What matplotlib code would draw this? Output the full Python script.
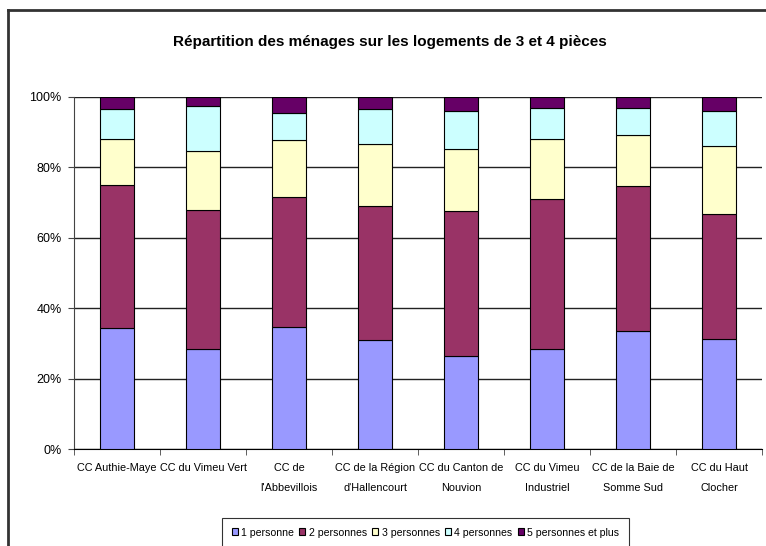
import matplotlib
matplotlib.use("Agg")
import matplotlib.pyplot as plt
import numpy as np
from matplotlib.lines import Line2D

categories = ["CC Authie-Maye", "CC du Vimeu Vert", "CC de\nl'Abbevillois",
              "CC de la Région\nd'Hallencourt", "CC du Canton de\nNouvion",
              "CC du Vimeu\nIndustriel", "CC de la Baie de\nSomme Sud", "CC du Haut\nClocher"]
series_names = ["1 personne", "2 personnes", "3 personnes", "4 personnes", "5 personnes et plus"]
p1 = [34.3, 28.3, 34.6, 30.9, 26.4, 28.3, 33.5, 31.2]
p2 = [40.7, 39.6, 37.0, 38.1, 41.1, 42.7, 41.1, 35.6]
p3 = [13.0, 16.8, 16.1, 17.6, 17.6, 17.0, 14.5, 19.4]
p4 = [8.6, 12.7, 7.8, 10.0, 10.8, 9.0, 7.9, 9.7]
p5 = [3.4, 2.6, 4.5, 3.4, 4.1, 3.0, 3.0, 4.1]
colors = ["#9999FF", "#993366", "#FFFFCC", "#CCFFFF", "#660066"]

plt.rcParams['font.family'] = ['Liberation Sans', 'DejaVu Sans']

W, H = 766, 546
fig = plt.figure(figsize=(W / 100, H / 100), dpi=100)
ax = fig.add_axes([74 / W, (H - 449) / H, (762 - 74) / W, (449 - 97) / H])

data = [p1, p2, p3, p4, p5]
x = np.arange(len(categories))
bottom = np.zeros(len(categories))
for name, vals, c in zip(series_names, data, colors):
    v = np.array(vals)
    ax.bar(x, v, bottom=bottom, width=0.4, color=c, edgecolor="black", linewidth=0.8,
           label=name, zorder=3)
    bottom += v

ax.set_xlim(-0.5, len(categories) - 0.5)
ax.set_ylim(0, 100)
ax.set_yticks([0, 20, 40, 60, 80, 100])
ax.set_yticklabels(["0%", "20%", "40%", "60%", "80%", "100%"], fontsize=9)
ax.yaxis.grid(True, color="#222222", linewidth=1, zorder=0)
ax.set_xticks(x)
ax.set_xticklabels(categories, fontsize=7.8, linespacing=2.3)
ax.tick_params(axis='x', length=0, pad=10)
ax.set_xticks(np.arange(-0.5, len(categories) + 0.5, 1), minor=True)
ax.tick_params(axis='x', which='minor', length=4, color="#444444")
ax.tick_params(axis='y', length=4, color="#444444", pad=5)
for s in ["top", "right"]:
    ax.spines[s].set_visible(False)
ax.spines["left"].set_color("#444444")
ax.spines["bottom"].set_color("black")

fig.text(390 / W, 1 - 42 / H, "Répartition des ménages sur les logements de 3 et 4 pièces",
         ha="center", va="center", fontsize=11, fontweight="bold")

# outer frame
fig.add_artist(Line2D([8 / W, 8 / W], [0, 1 - 10 / H], color="#333333", linewidth=2))
fig.add_artist(Line2D([8 / W, 1], [1 - 10 / H, 1 - 10 / H], color="#333333", linewidth=2))

leg = fig.legend(loc="upper left", bbox_to_anchor=(222 / W, 1 - 518 / H), ncol=5,
                 fontsize=7.6, frameon=True, fancybox=False, edgecolor="black",
                 handlelength=0.6, handleheight=0.6, handletextpad=0.3, columnspacing=0.5,
                 borderpad=0.9, borderaxespad=0)
leg.get_frame().set_linewidth(0.8)

fig.savefig("out.png", dpi=100)
